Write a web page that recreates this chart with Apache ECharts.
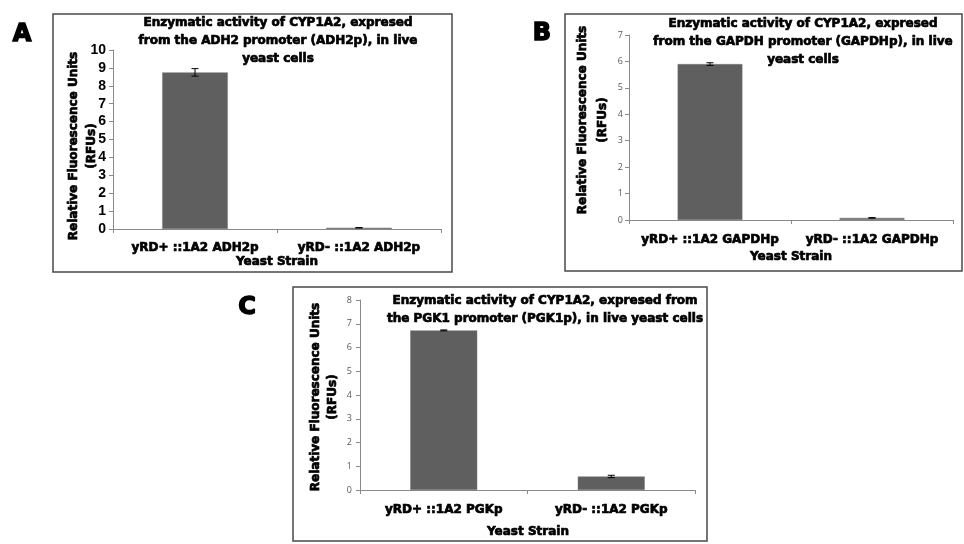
<!DOCTYPE html>
<html><head><meta charset="utf-8">
<script src="https://cdn.jsdelivr.net/npm/echarts@6/dist/echarts.min.js"></script>
<style>html,body{margin:0;padding:0;background:#fff}#c{width:964px;height:544px}</style>
</head><body><div id="c"></div>
<script>
// Panel A
const catsA = ['yRD+ ::1A2 ADH2p', 'yRD- ::1A2 ADH2p'];
const valsA = [8.75, 0.07];
const errA = [0.21, 0.01];
const yTicksA = [0, 1, 2, 3, 4, 5, 6, 7, 8, 9, 10];
// Panel B
const catsB = ['yRD+ ::1A2 GAPDHp', 'yRD- ::1A2 GAPDHp'];
const valsB = [5.9, 0.08];
const errB = [0.05, 0.01];
const yTicksB = [0, 1, 2, 3, 4, 5, 6, 7];
// Panel C
const catsC = ['yRD+ ::1A2 PGKp', 'yRD- ::1A2 PGKp'];
const valsC = [6.72, 0.57];
const errC = [0.02, 0.05];
const yTicksC = [0, 1, 2, 3, 4, 5, 6, 7, 8];

const titleA = 'Enzymatic activity of CYP1A2, expresed\nfrom the ADH2 promoter (ADH2p), in live\nyeast cells';
const titleB = 'Enzymatic activity of CYP1A2, expresed\nfrom the GAPDH promoter (GAPDHp), in live\nyeast cells';
const titleC = 'Enzymatic activity of CYP1A2, expresed from\nthe PGK1 promoter (PGK1p), in live yeast cells';
const yName = 'Relative Fluorescence Units\n(RFUs)';
const xName = 'Yeast Strain';

const HEAVY = '"DejaVu Sans", sans-serif';
const axisGrey = '#8a8a8a';
const barColor = '#5f5f5f';

function errData(vals, errs) {
  return vals.map((v, i) => [i, v - errs[i], v + errs[i]]);
}
function errItem(params, api) {
  const x = api.value(0), lo = api.value(1), hi = api.value(2);
  const p1 = api.coord([x, hi]), p2 = api.coord([x, lo]);
  const w = 3.5;
  const st = { stroke: '#000', lineWidth: 1 };
  return { type: 'group', children: [
    { type: 'line', shape: { x1: p1[0], y1: p1[1], x2: p2[0], y2: p2[1] }, style: st },
    { type: 'line', shape: { x1: p1[0] - w, y1: p1[1], x2: p1[0] + w, y2: p1[1] }, style: st },
    { type: 'line', shape: { x1: p2[0] - w, y1: p2[1], x2: p2[0] + w, y2: p2[1] }, style: st }
  ]};
}
function xAx(cats, gi, margin) {
  return {
    type: 'category', gridIndex: gi, data: cats,
    axisLine: { lineStyle: { color: axisGrey, width: 1 } },
    axisTick: { show: true, length: 4, lineStyle: { color: axisGrey } },
    axisLabel: { interval: 0, margin: margin, color: '#000', fontFamily: HEAVY, fontWeight: 'bold', fontSize: 12,
      textBorderColor: '#000', textBorderWidth: 0.7 },
    splitLine: { show: false }
  };
}
function yAx(ticks, gi, lab) {
  return {
    type: 'value', gridIndex: gi, min: ticks[0], max: ticks[ticks.length - 1],
    interval: ticks[1] - ticks[0],
    axisLine: { show: true, lineStyle: { color: axisGrey, width: 1 } },
    axisTick: { show: true, length: 4, lineStyle: { color: axisGrey } },
    axisLabel: lab,
    splitLine: { show: false }
  };
}
function barS(vals, gi) {
  return { type: 'bar', xAxisIndex: gi, yAxisIndex: gi, data: vals, barWidth: '40%',
    itemStyle: { color: barColor, borderColor: '#7a7a7a', borderWidth: 0.5 }, silent: true };
}
function errS(vals, errs, gi) {
  return { type: 'custom', xAxisIndex: gi, yAxisIndex: gi, data: errData(vals, errs),
    renderItem: errItem, z: 5, silent: true };
}
function txt(x, y, text, size, lh, rot, sw) {
  return { type: 'text', x: x, y: y, rotation: rot || 0, style: {
    text: text, fill: '#000', stroke: '#000', lineWidth: sw === undefined ? 0.7 : sw,
    fontFamily: HEAVY, fontWeight: 'bold', fontSize: size,
    lineHeight: lh, align: 'center', verticalAlign: 'middle' } };
}
function rect(x1, y1, x2, y2) {
  return { type: 'rect', shape: { x: x1, y: y1, width: x2 - x1, height: y2 - y1 },
    style: { fill: 'none', stroke: '#4a4a4a', lineWidth: 1.5 }, z: -1 };
}

const chart = echarts.init(document.getElementById('c'), null, { renderer: 'canvas' });
chart.setOption({
  backgroundColor: '#fff',
  animation: false,
  grid: [
    { left: 113, top: 50, width: 328, height: 179 },
    { left: 629, top: 35, width: 324, height: 185 },
    { left: 360, top: 300, width: 335, height: 190 }
  ],
  xAxis: [xAx(catsA, 0, 13), xAx(catsB, 1, 14), xAx(catsC, 2, 14)],
  yAxis: [
    yAx(yTicksA, 0, { margin: 7, color: '#000', fontFamily: '"Liberation Sans", Arial, sans-serif', fontWeight: 'bold', fontSize: 14 }),
    yAx(yTicksB, 1, { margin: 6, color: '#595959', fontFamily: '"Open Sans", sans-serif', fontSize: 9 }),
    yAx(yTicksC, 2, { margin: 8, color: '#595959', fontFamily: '"Open Sans", sans-serif', fontSize: 9 })
  ],
  series: [
    barS(valsA, 0), errS(valsA, errA, 0),
    barS(valsB, 1), errS(valsB, errB, 1),
    barS(valsC, 2), errS(valsC, errC, 2)
  ],
  graphic: [
    rect(53, 14, 452, 272),
    rect(565, 14, 962, 271),
    rect(293, 287, 707, 541),
    txt(22, 35, 'A', 24, 26, 0, 1.5),
    txt(542, 34, 'B', 24, 26, 0, 1.5),
    txt(247, 308, 'C', 24, 26, 0, 1.5),
    txt(278, 41, titleA, 12, 18),
    txt(803, 42, titleB, 12, 18),
    txt(545, 310, titleC, 12, 18),
    txt(83, 146, yName, 12, 18, Math.PI / 2),
    txt(593, 120, yName, 12, 20, Math.PI / 2),
    txt(324, 397, yName, 12, 17, Math.PI / 2),
    txt(277, 262, xName, 12, 14),
    txt(791, 257, xName, 12, 14),
    txt(528, 532, xName, 12, 14)
  ]
});
</script></body></html>
